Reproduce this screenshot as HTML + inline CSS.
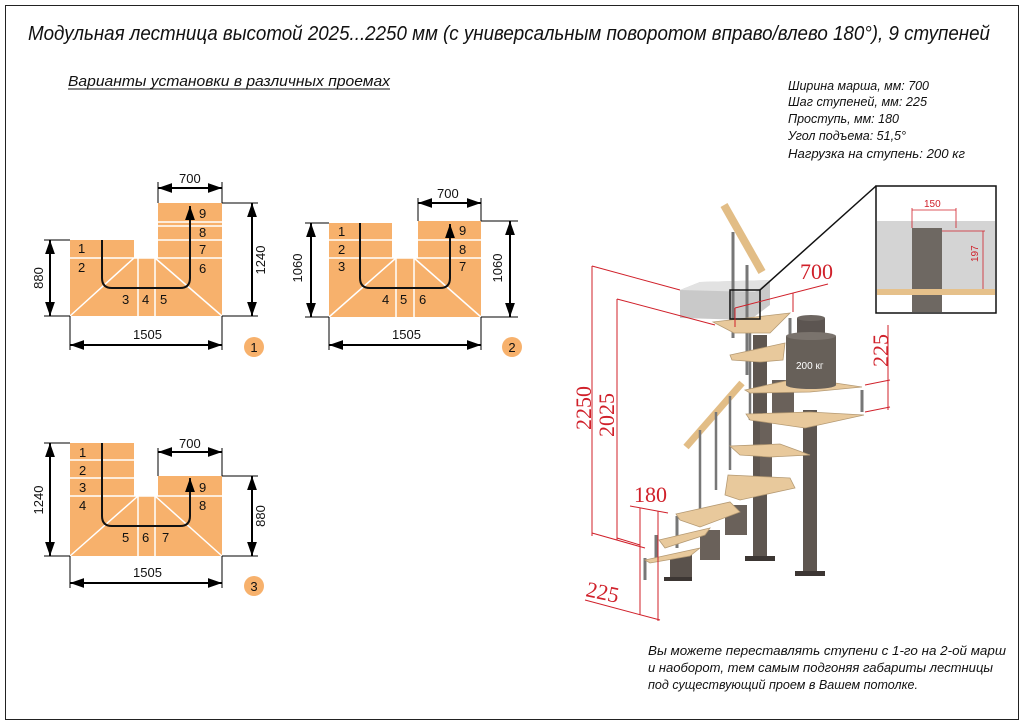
<!DOCTYPE html>
<html><head><meta charset="utf-8"><style>
html,body{margin:0;padding:0;background:#fff;}
svg{display:block;}
text{font-family:"Liberation Sans",sans-serif;}
.it{font-style:italic;fill:#111;}
.n{font-size:13px;fill:#111;}
.d{font-size:13px;fill:#111;}
.r{font-family:"Liberation Serif",serif;fill:#d0202a;font-size:22px;}
</style></head><body>
<svg width="1024" height="725" viewBox="0 0 1024 725" xmlns="http://www.w3.org/2000/svg">
<defs>
<marker id="a" viewBox="0 0 10 10" refX="10" refY="5" markerWidth="7" markerHeight="7" orient="auto-start-reverse"><path d="M0,1.5 L10,5 L0,8.5 z" fill="#000"/></marker>
</defs>
<rect x="5.5" y="5.5" width="1013" height="714" fill="none" stroke="#222" stroke-width="1"/>
<text x="28" y="40" class="it" font-size="20" textLength="962" lengthAdjust="spacingAndGlyphs">Модульная лестница высотой 2025...2250 мм (с универсальным поворотом вправо/влево 180°), 9 ступеней</text>
<text x="68" y="86" class="it" font-size="15" textLength="322" lengthAdjust="spacingAndGlyphs">Варианты установки в различных проемах</text>
<line x1="68" y1="89" x2="390" y2="89" stroke="#111" stroke-width="1"/>

<g class="it" font-size="13">
<text x="788" y="90" textLength="141" lengthAdjust="spacingAndGlyphs">Ширина марша, мм: 700</text>
<text x="788" y="106" textLength="139" lengthAdjust="spacingAndGlyphs">Шаг ступеней, мм: 225</text>
<text x="788" y="123" textLength="111" lengthAdjust="spacingAndGlyphs">Проступь, мм: 180</text>
<text x="788" y="140" textLength="118" lengthAdjust="spacingAndGlyphs">Угол подъема: 51,5°</text>
<text x="788" y="158" textLength="177" lengthAdjust="spacingAndGlyphs">Нагрузка на ступень: 200 кг</text>
<text x="648" y="655" textLength="358" lengthAdjust="spacingAndGlyphs">Вы можете переставлять ступени с 1-го на 2-ой марш</text>
<text x="648" y="672" textLength="345" lengthAdjust="spacingAndGlyphs">и наоборот, тем самым подгоняя габариты лестницы</text>
<text x="648" y="689" textLength="270" lengthAdjust="spacingAndGlyphs">под существующий проем в Вашем потолке.</text>
</g>

<!-- Diagram 1 -->
<g>
<path d="M70,240 H134 V258 H158 V203 H222 V316 H70 Z" fill="#f7b16c"/>
<g stroke="#fff" stroke-width="1.5" fill="none">
<line x1="70" y1="258" x2="222" y2="258"/><line x1="158" y1="222" x2="222" y2="222"/><line x1="158" y1="226" x2="222" y2="226"/><line x1="158" y1="240" x2="222" y2="240"/>
<line x1="138" y1="258" x2="138" y2="316"/><line x1="155" y1="258" x2="155" y2="316"/>
<line x1="70" y1="316" x2="134" y2="258"/><line x1="155" y1="258" x2="222" y2="316"/>
</g>
<path d="M102,240 V278 Q102,288 112,288 H180 Q190,288 190,278 V206" fill="none" stroke="#111" stroke-width="2" marker-end="url(#a)"/>
<g class="n"><text x="78" y="253">1</text><text x="78" y="272">2</text><text x="122" y="304">3</text><text x="142" y="304">4</text><text x="160" y="304">5</text><text x="199" y="218">9</text><text x="199" y="237">8</text><text x="199" y="254">7</text><text x="199" y="273">6</text></g>
<g stroke="#000" stroke-width="1" fill="none">
<line x1="158" y1="203" x2="158" y2="182"/><line x1="222" y1="203" x2="222" y2="182"/>
<line x1="158" y1="188" x2="222" y2="188" marker-start="url(#a)" marker-end="url(#a)" stroke-width="2"/>
<line x1="222" y1="203" x2="258" y2="203"/><line x1="222" y1="316" x2="258" y2="316"/>
<line x1="252" y1="203" x2="252" y2="316" marker-start="url(#a)" marker-end="url(#a)" stroke-width="2"/>
<line x1="70" y1="240" x2="44" y2="240"/><line x1="70" y1="316" x2="44" y2="316"/>
<line x1="50" y1="240" x2="50" y2="316" marker-start="url(#a)" marker-end="url(#a)" stroke-width="2"/>
<line x1="70" y1="316" x2="70" y2="350"/><line x1="222" y1="316" x2="222" y2="350"/>
<line x1="70" y1="345" x2="222" y2="345" marker-start="url(#a)" marker-end="url(#a)" stroke-width="2"/>
</g>
<g class="d"><text x="179" y="183">700</text><text x="133" y="339">1505</text>
<text transform="translate(265,260) rotate(-90)" text-anchor="middle">1240</text>
<text transform="translate(43,278) rotate(-90)" text-anchor="middle">880</text></g>
<circle cx="254" cy="347" r="10" fill="#f7b16c"/><text x="254" y="352" text-anchor="middle" class="n">1</text>
</g>

<!-- Diagram 2 -->
<g>
<path d="M329,223 H392 V258 H418 V221 H481 V317 H329 Z" fill="#f7b16c"/>
<g stroke="#fff" stroke-width="1.5" fill="none">
<line x1="329" y1="240" x2="392" y2="240"/><line x1="418" y1="240" x2="481" y2="240"/>
<line x1="329" y1="258" x2="481" y2="258"/>
<line x1="396" y1="258" x2="396" y2="317"/><line x1="414" y1="258" x2="414" y2="317"/>
<line x1="329" y1="317" x2="396" y2="258"/><line x1="414" y1="258" x2="481" y2="317"/>
</g>
<path d="M360,223 V278 Q360,288 370,288 H440 Q450,288 450,278 V224" fill="none" stroke="#111" stroke-width="2" marker-end="url(#a)"/>
<g class="n"><text x="338" y="236">1</text><text x="338" y="254">2</text><text x="338" y="271">3</text><text x="382" y="304">4</text><text x="400" y="304">5</text><text x="419" y="304">6</text><text x="459" y="235">9</text><text x="459" y="254">8</text><text x="459" y="271">7</text></g>
<g stroke="#000" stroke-width="1" fill="none">
<line x1="418" y1="221" x2="418" y2="198"/><line x1="481" y1="221" x2="481" y2="198"/>
<line x1="418" y1="203" x2="481" y2="203" marker-start="url(#a)" marker-end="url(#a)" stroke-width="2"/>
<line x1="481" y1="221" x2="518" y2="221"/><line x1="481" y1="317" x2="518" y2="317"/>
<line x1="510" y1="221" x2="510" y2="317" marker-start="url(#a)" marker-end="url(#a)" stroke-width="2"/>
<line x1="329" y1="223" x2="305" y2="223"/><line x1="329" y1="317" x2="305" y2="317"/>
<line x1="311" y1="223" x2="311" y2="317" marker-start="url(#a)" marker-end="url(#a)" stroke-width="2"/>
<line x1="329" y1="317" x2="329" y2="350"/><line x1="481" y1="317" x2="481" y2="350"/>
<line x1="329" y1="345" x2="481" y2="345" marker-start="url(#a)" marker-end="url(#a)" stroke-width="2"/>
</g>
<g class="d"><text x="437" y="198">700</text><text x="392" y="339">1505</text>
<text transform="translate(502,268) rotate(-90)" text-anchor="middle">1060</text>
<text transform="translate(302,268) rotate(-90)" text-anchor="middle">1060</text></g>
<circle cx="512" cy="347" r="10" fill="#f7b16c"/><text x="512" y="352" text-anchor="middle" class="n">2</text>
</g>

<!-- Diagram 3 -->
<g>
<path d="M70,443 H134 V496 H158 V476 H222 V556 H70 Z" fill="#f7b16c"/>
<g stroke="#fff" stroke-width="1.5" fill="none">
<line x1="70" y1="460" x2="134" y2="460"/><line x1="70" y1="478" x2="134" y2="478"/>
<line x1="70" y1="496" x2="222" y2="496"/>
<line x1="138" y1="496" x2="138" y2="556"/><line x1="155" y1="496" x2="155" y2="556"/>
<line x1="70" y1="556" x2="138" y2="496"/><line x1="155" y1="496" x2="222" y2="556"/>
</g>
<path d="M102,443 V516 Q102,526 112,526 H180 Q190,526 190,516 V478" fill="none" stroke="#111" stroke-width="2" marker-end="url(#a)"/>
<g class="n"><text x="79" y="457">1</text><text x="79" y="475">2</text><text x="79" y="492">3</text><text x="79" y="510">4</text><text x="122" y="542">5</text><text x="142" y="542">6</text><text x="162" y="542">7</text><text x="199" y="492">9</text><text x="199" y="510">8</text></g>
<g stroke="#000" stroke-width="1" fill="none">
<line x1="158" y1="476" x2="158" y2="448"/><line x1="222" y1="476" x2="222" y2="448"/>
<line x1="158" y1="452" x2="222" y2="452" marker-start="url(#a)" marker-end="url(#a)" stroke-width="2"/>
<line x1="222" y1="476" x2="258" y2="476"/><line x1="222" y1="556" x2="258" y2="556"/>
<line x1="252" y1="476" x2="252" y2="556" marker-start="url(#a)" marker-end="url(#a)" stroke-width="2"/>
<line x1="70" y1="443" x2="44" y2="443"/><line x1="70" y1="556" x2="44" y2="556"/>
<line x1="50" y1="443" x2="50" y2="556" marker-start="url(#a)" marker-end="url(#a)" stroke-width="2"/>
<line x1="70" y1="556" x2="70" y2="588"/><line x1="222" y1="556" x2="222" y2="588"/>
<line x1="70" y1="583" x2="222" y2="583" marker-start="url(#a)" marker-end="url(#a)" stroke-width="2"/>
</g>
<g class="d"><text x="179" y="448">700</text><text x="133" y="577">1505</text>
<text transform="translate(265,516) rotate(-90)" text-anchor="middle">880</text>
<text transform="translate(43,500) rotate(-90)" text-anchor="middle">1240</text></g>
<circle cx="254" cy="586" r="10" fill="#f7b16c"/><text x="254" y="591" text-anchor="middle" class="n">3</text>
</g>

<!-- Staircase -->
<g>
<rect x="753" y="335" width="14" height="225" fill="#5e5650"/>
<rect x="745" y="556" width="30" height="5" fill="#3c3633"/>
<rect x="803" y="410" width="14" height="165" fill="#5e5650"/>
<rect x="795" y="571" width="30" height="5" fill="#3c3633"/>
<rect x="760" y="420" width="12" height="60" fill="#6a615a"/>
<rect x="772" y="380" width="22" height="40" fill="#6a615a"/>
<rect x="725" y="505" width="22" height="30" fill="#6a615a"/>
<rect x="700" y="530" width="20" height="30" fill="#6a615a"/>
<rect x="670" y="555" width="22" height="25" fill="#5a524c"/>
<rect x="664" y="577" width="28" height="4" fill="#3c3633"/>
<polygon points="680,290 700,282 770,280 770,305 750,320 680,318" fill="#c9c9c9"/>
<polygon points="680,290 700,282 770,280 755,292" fill="#e2e2e2"/>
<line x1="733" y1="232" x2="733" y2="338" stroke="#777" stroke-width="3"/>
<line x1="747" y1="265" x2="747" y2="375" stroke="#777" stroke-width="3"/>
<line x1="724" y1="205" x2="762" y2="272" stroke="#e2bd86" stroke-width="8"/>
<line x1="686" y1="447" x2="742" y2="383" stroke="#e2bd86" stroke-width="7"/>
<line x1="700" y1="430" x2="700" y2="520" stroke="#777" stroke-width="2.5"/>
<line x1="716" y1="412" x2="716" y2="490" stroke="#777" stroke-width="2.5"/>
<line x1="730" y1="396" x2="730" y2="470" stroke="#777" stroke-width="2.5"/>
<line x1="750" y1="330" x2="750" y2="420" stroke="#777" stroke-width="2.5"/>
<line x1="862" y1="390" x2="862" y2="412" stroke="#777" stroke-width="3"/>
<line x1="790" y1="318" x2="790" y2="335" stroke="#777" stroke-width="3"/>
<line x1="677" y1="516" x2="677" y2="548" stroke="#777" stroke-width="3"/>
<line x1="656" y1="535" x2="656" y2="560" stroke="#777" stroke-width="3"/>
<line x1="645" y1="558" x2="645" y2="580" stroke="#777" stroke-width="3"/>
<g fill="#e8c99c" stroke="#b59a73" stroke-width="0.8">
<polygon points="713,322 790,313 770,333 734,333"/>
<polygon points="730,355 785,343 783,360 760,362 732,360"/>
<polygon points="745,390 790,380 835,383 862,387 810,392 750,393"/>
<polygon points="746,414 810,412 864,415 805,428 750,420"/>
<polygon points="730,446 780,444 810,455 770,457 740,455"/>
<polygon points="728,475 790,478 795,488 740,500 725,495"/>
<polygon points="676,514 730,502 740,512 700,527 680,520"/>
<polygon points="659,540 710,528 705,535 665,548"/>
<polygon points="645,560 700,548 690,556 650,563"/>
</g>
<rect x="797" y="318" width="28" height="20" fill="#5c5551"/>
<ellipse cx="811" cy="318" rx="14" ry="3" fill="#6d6661"/>
<rect x="786" y="336" width="50" height="49" fill="#676059"/>
<ellipse cx="811" cy="336" rx="25" ry="4" fill="#7a736d"/>
<ellipse cx="811" cy="385" rx="25" ry="4" fill="#676059"/>
<text x="796" y="369" font-size="10" fill="#fff">200 кг</text>
<rect x="730" y="290" width="30" height="29" fill="none" stroke="#111" stroke-width="1.5"/>
<line x1="760" y1="290" x2="876" y2="186" stroke="#111" stroke-width="1.5"/>
<rect x="876" y="186" width="120" height="127" fill="#fff" stroke="#111" stroke-width="1.5"/>
<rect x="877" y="221" width="118" height="68" fill="#d4d4d4"/>
<rect x="912" y="228" width="30" height="62" fill="#6e6862"/>
<rect x="877" y="289" width="118" height="6" fill="#e6c18b"/>
<rect x="912" y="295" width="30" height="17" fill="#6e6862"/>
<g stroke="#d0202a" stroke-width="0.8" fill="none"><line x1="912" y1="210" x2="956" y2="210"/><line x1="912" y1="208" x2="912" y2="228"/><line x1="956" y1="208" x2="956" y2="228"/><line x1="942" y1="231" x2="985" y2="231"/><line x1="983" y1="231" x2="983" y2="289"/></g>
<text x="924" y="207" font-size="10" fill="#d0202a" font-family="Liberation Serif,serif">150</text>
<text transform="translate(978,262) rotate(-90)" font-size="10" fill="#d0202a" font-family="Liberation Serif,serif">197</text>
<g stroke="#d0202a" stroke-width="1" fill="none">
<line x1="592" y1="266" x2="592" y2="536"/>
<line x1="592" y1="266" x2="680" y2="290"/>
<line x1="592" y1="533" x2="645" y2="548"/>
<line x1="617" y1="299" x2="617" y2="540"/>
<line x1="617" y1="299" x2="715" y2="325"/>
<line x1="617" y1="538" x2="640" y2="545"/>
<line x1="735" y1="308" x2="828" y2="284"/>
<line x1="793" y1="293" x2="793" y2="312"/>
<line x1="735" y1="308" x2="735" y2="327"/>
<line x1="888" y1="325" x2="888" y2="410"/>
<line x1="865" y1="385" x2="890" y2="380"/>
<line x1="865" y1="412" x2="890" y2="407"/>
<line x1="630" y1="506" x2="668" y2="513"/>
<line x1="640" y1="508" x2="640" y2="615"/>
<line x1="658" y1="511" x2="658" y2="621"/>
<line x1="585" y1="600" x2="660" y2="620"/>
</g>
<text class="r" transform="translate(591,430) rotate(-90)" font-size="21">2250</text>
<text class="r" transform="translate(614,437) rotate(-90)" font-size="21">2025</text>
<text class="r" x="800" y="279" font-size="20">700</text>
<text class="r" transform="translate(888,367) rotate(-90)" font-size="20">225</text>
<text class="r" x="634" y="502" font-size="20">180</text>
<text class="r" transform="translate(585,596) rotate(12)" font-size="20">225</text>
</g>
</svg>
</body></html>
